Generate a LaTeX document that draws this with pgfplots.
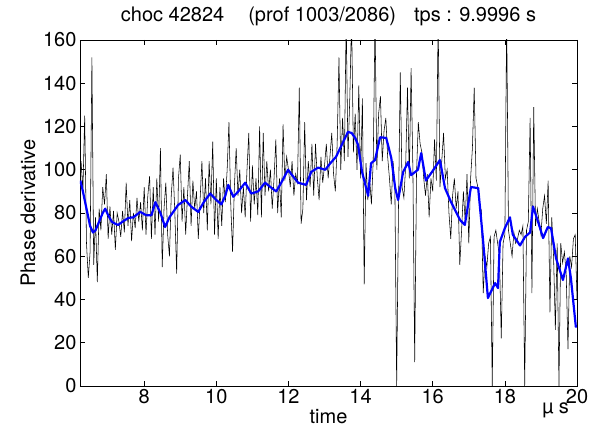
\documentclass[border=0pt]{standalone}
\usepackage{pgfplots}
\pgfplotsset{compat=1.18}
\usepackage{fontspec}
\setmainfont{TeX Gyre Heros}
\newcommand{\ff}{\fontsize{20}{23}\selectfont}
\begin{document}
\begin{tikzpicture}
\begin{axis}[
  width=497pt, height=346pt, scale only axis,
  xmin=6.22, xmax=20, ymin=0, ymax=160,
  xtick={8,10,12,14,16,18,20},
  ytick={0,20,40,60,80,100,120,140,160},
  tick align=inside, major tick length=5pt,
  axis line style={line width=0.9pt},
  every tick/.style={black, line width=0.6pt},
  /pgf/number format/assume math mode=true,
  tick label style={font=\ff},
  xlabel={time}, ylabel={Phase derivative},
  label style={font=\ff},
  xlabel style={at={(axis description cs:0.5,-0.1098)}, anchor=base},
  ylabel style={at={(axis description cs:-0.0905,0.5)}, anchor=base},
  clip mode=individual,
]
\addplot[black, line width=0.55pt] coordinates {
(6.25,104)(6.30,90)(6.35,125)(6.40,66)(6.45,50)(6.50,62)(6.55,152)(6.60,56)(6.65,78)(6.70,48)
(6.75,82)(6.80,72)(6.85,92)(6.90,84)(6.95,98)(7.00,68)(7.05,83)(7.10,70)(7.15,81)(7.20,63)
(7.25,80)(7.30,76)(7.35,69)(7.40,81)(7.45,71)(7.50,94)(7.55,74)(7.60,86)(7.65,67)(7.70,80)
(7.75,73)(7.80,87)(7.85,76)(7.90,85)(7.95,72)(8.00,92)(8.05,70)(8.10,88)(8.15,97)(8.20,68)
(8.25,92)(8.30,70)(8.35,96)(8.40,76)(8.45,110)(8.50,55)(8.55,82)(8.60,94)(8.65,70)(8.70,60)
(8.75,88)(8.80,101)(8.85,80)(8.90,52)(8.95,96)(9.00,107)(9.05,76)(9.10,92)(9.15,70)(9.20,88)
(9.25,104)(9.30,74)(9.35,95)(9.40,82)(9.45,90)(9.50,68)(9.55,86)(9.60,104)(9.65,80)(9.70,96)
(9.75,72)(9.80,104)(9.85,84)(9.90,113)(9.95,70)(10.00,96)(10.05,68)(10.10,92)(10.15,74)(10.20,96)
(10.25,85)(10.30,100)(10.35,122)(10.40,84)(10.45,62)(10.50,92)(10.55,110)(10.60,88)(10.65,100)(10.70,80)
(10.75,92)(10.80,78)(10.85,100)(10.90,117)(10.95,76)(11.00,102)(11.05,84)(11.10,96)(11.15,79)(11.20,120)
(11.25,78)(11.30,117)(11.35,88)(11.40,104)(11.45,90)(11.50,100)(11.55,82)(11.60,96)(11.65,114)(11.70,80)
(11.75,96)(11.80,78)(11.85,121)(11.90,95)(11.95,106)(12.00,100)(12.05,92)(12.10,104)(12.15,88)(12.20,98)
(12.25,94)(12.30,138)(12.35,75)(12.40,82)(12.45,122)(12.50,86)(12.55,104)(12.60,92)(12.65,112)(12.70,88)
(12.75,112)(12.80,96)(12.85,86)(12.90,106)(12.95,94)(13.00,102)(13.05,112)(13.10,96)(13.15,106)(13.20,117)
(13.25,98)(13.30,90)(13.35,112)(13.40,152)(13.45,100)(13.50,124)(13.55,104)(13.60,170)(13.65,106)(13.70,133)
(13.75,170)(13.80,108)(13.85,126)(13.90,100)(13.95,139)(14.00,96)(14.05,133)(14.10,47)(14.15,103)(14.20,86)
(14.25,96)(14.30,84)(14.35,104)(14.40,170)(14.45,100)(14.50,126)(14.55,134)(14.60,104)(14.65,118)(14.70,124)
(14.75,106)(14.80,96)(14.85,84)(14.90,104)(14.95,92)(15.00,0)(15.05,82)(15.10,145)(15.15,92)(15.20,87)
(15.25,102)(15.30,138)(15.35,96)(15.40,147)(15.45,100)(15.50,11)(15.55,98)(15.60,122)(15.65,112)(15.70,108)
(15.75,96)(15.80,88)(15.85,98)(15.90,78)(15.95,96)(16.00,90)(16.05,114)(16.10,95)(16.15,170)(16.20,92)
(16.25,104)(16.30,117)(16.35,96)(16.40,100)(16.45,80)(16.50,68)(16.55,88)(16.60,96)(16.65,82)(16.70,90)
(16.75,56)(16.80,72)(16.85,90)(16.90,76)(16.95,98)(17.00,66)(17.05,96)(17.10,110)(17.15,138)(17.20,96)
(17.25,92)(17.30,84)(17.35,81)(17.40,43)(17.45,60)(17.50,55)(17.55,66)(17.60,69)(17.65,0)(17.70,69)
(17.75,72)(17.80,66)(17.85,60)(17.90,22)(17.95,66)(18.00,70)(18.05,170)(18.10,72)(18.15,66)(18.20,60)
(18.25,71)(18.30,66)(18.35,68)(18.40,72)(18.45,70)(18.50,74)(18.55,0)(18.60,72)(18.65,76)(18.70,124)
(18.75,43)(18.80,129)(18.85,74)(18.90,82)(18.95,76)(19.00,70)(19.05,82)(19.10,88)(19.15,75)(19.20,95)
(19.25,34)(19.30,78)(19.35,60)(19.40,26)(19.45,66)(19.50,0)(19.55,66)(19.60,57)(19.65,62)(19.70,52)
(19.75,17)(19.80,60)(19.85,55)(19.90,68)(19.95,70)(20.00,40)
};
\addplot[color={rgb,255:red,0;green,0;blue,255}, line width=2.2pt, line join=round] coordinates {
(6.23,95)(6.30,90)(6.40,82)(6.50,74)(6.58,71)(6.65,72)(6.75,76)(6.85,80)(6.92,82)(7.00,79)
(7.10,76)(7.20,75)(7.28,74.5)(7.40,76)(7.56,77.7)(7.70,78)(7.89,80.5)(8.05,79)(8.20,79)(8.31,85)
(8.45,80)(8.58,73.5)(8.70,78)(8.94,83.7)(9.14,86)(9.30,83)(9.50,80.5)(9.65,85)(9.83,89)(10.00,86)
(10.14,84)(10.25,88)(10.33,93)(10.47,87.5)(10.61,90)(10.80,94)(10.97,89)(11.16,90)(11.35,94)(11.50,92)
(11.66,90)(11.80,94)(11.99,100)(12.10,97.5)(12.27,94)(12.49,93)(12.63,99)(12.82,101)(13.02,100)(13.16,103)
(13.32,106)(13.52,113)(13.65,117.5)(13.75,117)(13.85,114.7)(13.93,111.5)(14.04,99)(14.21,88)(14.29,103)(14.40,104.5)
(14.54,115)(14.71,114.7)(14.85,105.5)(14.96,91.5)(15.04,86)(15.18,99)(15.32,103.6)(15.40,97.5)(15.59,100)(15.68,107.7)
(15.81,95)(15.98,99)(16.06,101)(16.20,104.5)(16.34,91.5)(16.51,85)(16.76,76.7)(16.89,74.5)(17.06,92)(17.26,91.5)
(17.39,68.4)(17.53,40.7)(17.73,47.6)(17.81,45.3)(17.86,66.6)(18.00,73)(18.14,78)(18.22,70)(18.42,65)(18.56,69)
(18.70,71)(18.78,83)(18.92,76)(19.06,68.4)(19.19,73.5)(19.28,73)(19.42,59)(19.61,49)(19.75,59)(19.83,50)
(19.97,27)
};
\coordinate (LL) at (rel axis cs:0,0);
\node[font=\ff, anchor=base] at (rel axis cs:0.5,1) [yshift=18pt] {choc 42824\hspace{24pt}(prof 1003/2086)\hspace{18pt}tps : 9.9996 s};
\node[font=\ff, anchor=base] at (rel axis cs:0.957,0) [yshift=-28pt] {µ s};
\end{axis}
\pgfresetboundingbox
\path (LL) ++(-80pt,-44pt) rectangle ++(597pt,430pt);
\end{tikzpicture}
\end{document}
